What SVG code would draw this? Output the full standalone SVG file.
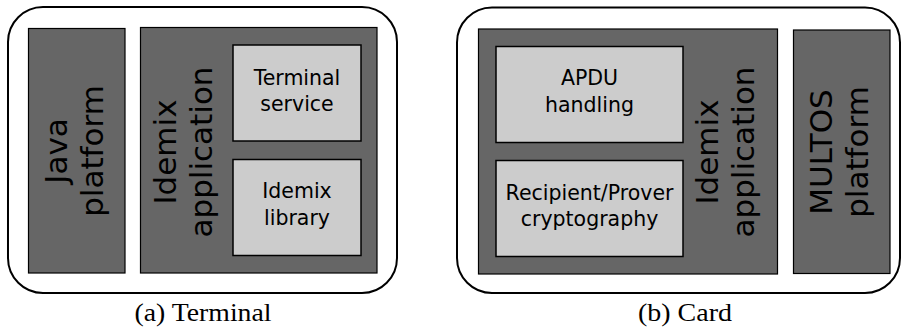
<svg xmlns="http://www.w3.org/2000/svg" width="902" height="329" viewBox="0 0 902 329">
<style>
.outer{fill:#ffffff;stroke:#000000;stroke-width:2}
.dark{fill:#666666;stroke:#000000;stroke-width:1.2}
.light{fill:#cccccc;stroke:#000000;stroke-width:1.5}
.big{font-family:"DejaVu Sans",sans-serif;font-size:31px;fill:#000000;text-anchor:middle}
.small{font-family:"DejaVu Sans",sans-serif;font-size:20.5px;fill:#000000;text-anchor:middle}
.cap{font-family:"Liberation Serif",serif;font-size:25px;fill:#000000;text-anchor:middle}
</style>
<g id="terminal-panel">
<rect class="outer" x="8" y="7" width="389" height="286" rx="35" ry="35"/>
</g>
<g id="java-platform">
<rect class="dark" x="28.5" y="28.5" width="96.5" height="244.5"/>
<text class="big" transform="translate(67,151) rotate(-90)" x="0" y="0">Java</text>
<text class="big" transform="translate(103,151) rotate(-90)" x="0" y="0">platform</text>
</g>
<g id="idemix-application-terminal">
<rect class="dark" x="140.5" y="27.5" width="236.5" height="245.5"/>
<text class="big" transform="translate(176,152) rotate(-90)" x="0" y="0">Idemix</text>
<text class="big" transform="translate(212,152) rotate(-90)" x="0" y="0">application</text>
</g>
<g id="terminal-service">
<rect class="light" x="233" y="45" width="128" height="96"/>
<text class="small" x="297" y="85">Terminal</text>
<text class="small" x="297" y="111">service</text>
</g>
<g id="idemix-library">
<rect class="light" x="233" y="159.5" width="128" height="96"/>
<text class="small" x="297" y="198">Idemix</text>
<text class="small" x="297" y="225">library</text>
</g>
<text class="cap" x="203" y="321" textLength="137" lengthAdjust="spacingAndGlyphs">(a) Terminal</text>

<g id="card-panel">
<rect class="outer" x="457" y="7.5" width="443" height="285.5" rx="35" ry="35"/>
</g>
<g id="idemix-application-card">
<rect class="dark" x="478.5" y="29" width="299" height="245"/>
<text class="big" transform="translate(718,152) rotate(-90)" x="0" y="0">Idemix</text>
<text class="big" transform="translate(754,152) rotate(-90)" x="0" y="0">application</text>
</g>
<g id="apdu-handling">
<rect class="light" x="496" y="46.5" width="187" height="96"/>
<text class="small" x="589.5" y="85">APDU</text>
<text class="small" x="589.5" y="111.5">handling</text>
</g>
<g id="recipient-prover">
<rect class="light" x="496" y="160.5" width="187" height="96"/>
<text class="small" x="589.5" y="200">Recipient/Prover</text>
<text class="small" x="589.5" y="226">cryptography</text>
</g>
<g id="multos-platform">
<rect class="dark" x="793.5" y="30" width="96.5" height="243.5"/>
<text class="big" transform="translate(832,152) rotate(-90)" x="0" y="0">MULTOS</text>
<text class="big" transform="translate(868,152) rotate(-90)" x="0" y="0">platform</text>
</g>
<text class="cap" x="685" y="321" textLength="94" lengthAdjust="spacingAndGlyphs">(b) Card</text>
<g id="connectors"></g>
</svg>
